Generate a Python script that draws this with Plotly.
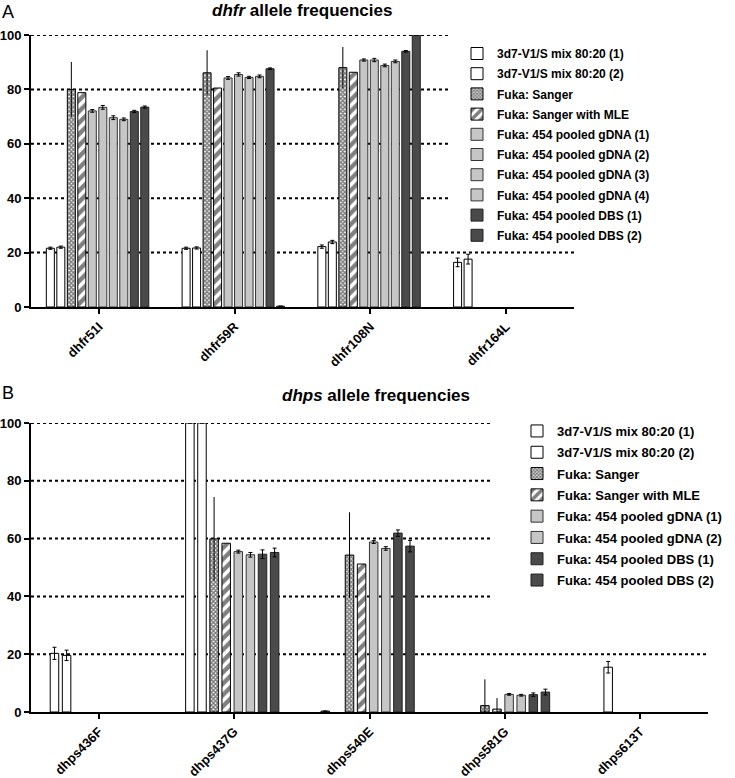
import plotly.graph_objects as go

# ---------------- data ----------------
series_names_A = [
    "3d7-V1/S mix 80:20 (1)", "3d7-V1/S mix 80:20 (2)", "Fuka: Sanger",
    "Fuka: Sanger with MLE", "Fuka: 454 pooled gDNA (1)", "Fuka: 454 pooled gDNA (2)",
    "Fuka: 454 pooled gDNA (3)", "Fuka: 454 pooled gDNA (4)",
    "Fuka: 454 pooled DBS (1)", "Fuka: 454 pooled DBS (2)",
]
dhfr_categories = ["dhfr51I", "dhfr59R", "dhfr108N", "dhfr164L"]
dhfr_values = [
    [21.6, 21.6, 22.2, 16.4],
    [22.0, 21.7, 23.9, 17.6],
    [80.0, 86.1, 88.0, None],
    [78.8, 80.5, 86.3, None],
    [72.1, 84.2, 90.8, None],
    [73.4, 85.5, 90.8, None],
    [69.6, 84.4, 88.8, None],
    [69.0, 84.8, 90.3, None],
    [71.9, 87.6, 94.0, None],
    [73.5, 0.3, 100.0, None],
]
dhfr_errors = [
    [0.4, 0.4, 0.6, 1.6],
    [0.4, 0.4, 0.6, 1.8],
    [10.1, 8.3, 7.6, None],
    [None, None, None, None],
    [0.5, 0.5, 0.4, None],
    [0.7, 0.6, 0.6, None],
    [0.7, 0.4, 0.5, None],
    [0.5, 0.5, 0.5, None],
    [0.4, 0.3, 0.3, None],
    [0.4, None, None, None],
]

series_names_B = [
    "3d7-V1/S mix 80:20 (1)", "3d7-V1/S mix 80:20 (2)", "Fuka: Sanger",
    "Fuka: Sanger with MLE", "Fuka: 454 pooled gDNA (1)", "Fuka: 454 pooled gDNA (2)",
    "Fuka: 454 pooled DBS (1)", "Fuka: 454 pooled DBS (2)",
]
dhps_categories = ["dhps436F", "dhps437G", "dhps540E", "dhps581G", "dhps613T"]
dhps_values = [
    [20.3, 100.0, 0.3, None, None],
    [19.6, 100.0, None, None, 15.5],
    [None, 59.9, 54.3, 2.2, None],
    [None, 58.4, 51.2, 1.0, None],
    [None, 55.5, 58.8, 6.1, None],
    [None, 54.4, 56.6, 5.8, None],
    [None, 54.6, 61.9, 6.0, None],
    [None, 55.2, 57.4, 6.9, None],
]
dhps_errors = [
    [2.1, None, None, None, None],
    [1.8, None, None, None, 2.0],
    [None, 14.5, 14.8, 9.1, None],
    [None, None, None, 3.8, None],
    [None, 0.5, 0.5, 0.3, None],
    [None, 0.8, 0.6, 0.3, None],
    [None, 1.5, 1.1, 0.6, None],
    [None, 1.5, 2.0, 1.0, None],
]

y_ticks = [0, 20, 40, 60, 80, 100]

# ---------------- styles ----------------
FONT = "Liberation Sans, Arial, sans-serif"
LIGHT = "#c6c6c6"
DARK = "#4a4a4a"


def marker_for(name):
    line = dict(color="black", width=1)
    if name.startswith("3d7"):
        return dict(color="white", line=line)
    if name == "Fuka: Sanger":
        return dict(color="white", line=line,
                    pattern=dict(shape="x", fgcolor="black", bgcolor="white",
                                 size=3, solidity=0.75))
    if name == "Fuka: Sanger with MLE":
        return dict(color="white", line=line,
                    pattern=dict(shape="/", fgcolor="black", bgcolor="white",
                                 size=8, solidity=0.55))
    if "gDNA" in name:
        return dict(color=LIGHT, line=dict(color="#333", width=1))
    return dict(color=DARK, line=dict(color="#222", width=1))


fig = go.Figure()


def add_panel(names, cats, values, errors, xa, ya, legend, start, pitch, width):
    for i, (nm, vals, errs) in enumerate(zip(names, values, errors)):
        cap = 0 if nm in ("Fuka: Sanger", "Fuka: Sanger with MLE") else 2
        fig.add_trace(go.Bar(
            x=cats, y=vals, name=nm, xaxis=xa, yaxis=ya, legend=legend,
            legendgroup=f"{legend}-{i}",
            offset=start + i * pitch, width=width,
            marker=marker_for(nm),
            error_y=dict(type="data", array=[e if e is not None else 0 for e in errs],
                         visible=True, color="black", thickness=1, width=cap),
        ))


add_panel(series_names_A, dhfr_categories, dhfr_values, dhfr_errors,
          "x", "y", "legend", -0.387, 0.0773, 0.059)
add_panel(series_names_B, dhps_categories, dhps_values, dhps_errors,
          "x2", "y2", "legend2", -0.358, 0.0894, 0.0628)

W, H = 735, 778
A_X, A_Y = (31, 574), (307, 35)   # pixel extents of panel A plot area
B_X, B_Y = (31, 708), (712, 423)  # pixel extents of panel B plot area
A_LEGEND_LEFT, B_LEGEND_LEFT = 450, 490


def px_x(p):
    return p / W


def px_y(p):
    return 1 - p / H


def dom_x(p, ext):
    return (p - ext[0]) / (ext[1] - ext[0])


# dotted grid lines (stopping where the legend box begins, except the 20 line)
grid_shapes = []
for xa, ya, ext, stop in (("x", "y", A_X, A_LEGEND_LEFT), ("x2", "y2", B_X, B_LEGEND_LEFT)):
    for v in y_ticks[1:]:
        grid_shapes.append(dict(
            type="line", xref=f"{xa} domain", yref=ya, layer="below",
            x0=0, x1=1 if v == 20 else dom_x(stop, ext), y0=v, y1=v,
            line=dict(color="black", width=2, dash="dot"),
        ))

tickfont = dict(family=FONT, size=13, color="black", weight="bold")
common_x = dict(type="category", showline=True, linecolor="black", linewidth=2,
                ticks="outside", ticklen=5, tickwidth=2, tickcolor="black",
                tickangle=-45, tickfont=tickfont, ticklabelstandoff=0,
                showgrid=False, zeroline=False, automargin=False)
common_y = dict(range=[0, 100], tickvals=y_ticks, showline=True,
                linecolor="black", linewidth=2, ticks="outside", ticklen=5,
                tickwidth=2, tickcolor="black", tickfont=tickfont, showgrid=False,
                zeroline=False, automargin=False)

fig.update_layout(
    width=W, height=H, margin=dict(l=0, r=0, t=0, b=0, autoexpand=False),
    plot_bgcolor="white", paper_bgcolor="white",
    barmode="overlay",
    font=dict(family=FONT, color="black"),
    xaxis=dict(common_x, domain=[px_x(A_X[0]), px_x(A_X[1])], anchor="y",
               range=[-0.5, len(dhfr_categories) - 0.5]),
    yaxis=dict(common_y, domain=[px_y(A_Y[0]), px_y(A_Y[1])], anchor="x"),
    xaxis2=dict(common_x, domain=[px_x(B_X[0]), px_x(B_X[1])], anchor="y2",
                range=[-0.5, len(dhps_categories) - 0.5]),
    yaxis2=dict(common_y, domain=[px_y(B_Y[0]), px_y(B_Y[1])], anchor="x2"),
    legend=dict(x=px_x(457), y=px_y(39), xanchor="left", yanchor="top",
                bgcolor="rgba(0,0,0,0)", font=dict(family=FONT, size=12, weight="bold"),
                traceorder="grouped", tracegroupgap=1.2, itemclick=False),
    legend2=dict(x=px_x(517), y=px_y(416), xanchor="left", yanchor="top",
                 bgcolor="rgba(0,0,0,0)", font=dict(family=FONT, size=13, weight="bold"),
                 traceorder="grouped", tracegroupgap=1.4, itemclick=False),
    showlegend=True,
    shapes=grid_shapes,
    annotations=[
        dict(text="A", x=0, y=px_y(12), xref="paper", yref="paper", xanchor="left",
             yanchor="middle", showarrow=False, font=dict(family=FONT, size=18)),
        dict(text="<i>dhfr</i> allele frequencies", x=px_x(302), y=px_y(10),
             xref="paper", yref="paper", xanchor="center", yanchor="middle",
             showarrow=False, font=dict(family=FONT, size=17, weight="bold")),
        dict(text="B", x=0, y=px_y(393), xref="paper", yref="paper", xanchor="left",
             yanchor="middle", showarrow=False, font=dict(family=FONT, size=18)),
        dict(text="<i>dhps</i> allele frequencies", x=px_x(376), y=px_y(395),
             xref="paper", yref="paper", xanchor="center", yanchor="middle",
             showarrow=False, font=dict(family=FONT, size=17, weight="bold")),
    ],
)

fig.write_html(
    "out.html",
    config={"displayModeBar": False},
    post_script="document.body.style.margin='0';document.body.style.overflow='hidden';",
)
